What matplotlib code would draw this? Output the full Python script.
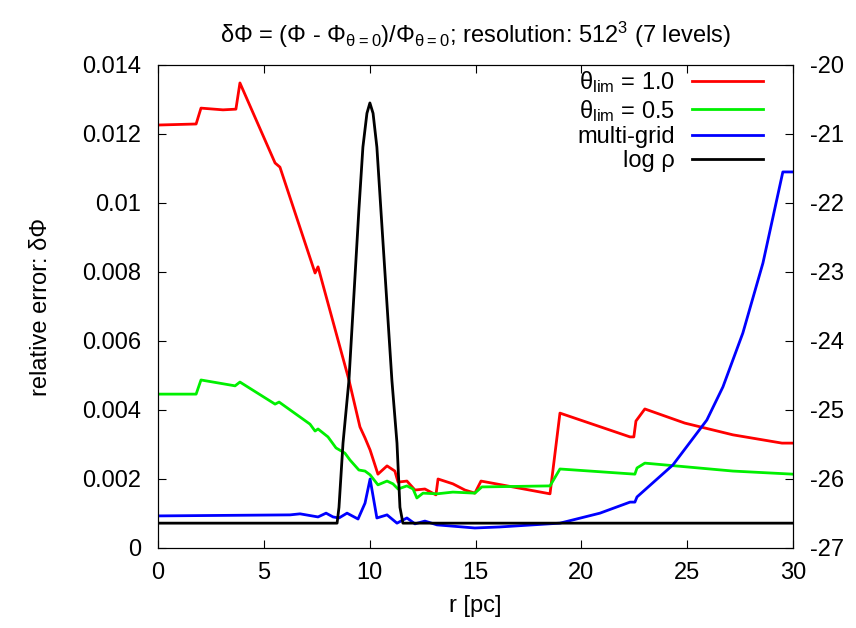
import matplotlib
matplotlib.use('Agg')
import matplotlib.pyplot as plt
from matplotlib.ticker import FormatStrFormatter, MultipleLocator

plt.rcParams['font.family'] = ['Liberation Sans', 'DejaVu Sans']
plt.rcParams['mathtext.fontset'] = 'custom'
plt.rcParams['mathtext.rm'] = 'Liberation Sans'
plt.rcParams['mathtext.default'] = 'regular'
plt.rcParams['axes.unicode_minus'] = False

# theta_lim = 1.0
r_t10 = [0, 1.80, 2.03, 3.07, 3.68, 3.87, 5.53, 5.76, 7.42, 7.56, 9.02, 9.54, 9.78, 10.02,
         10.39, 10.82, 11.19, 11.34, 11.76, 12.14, 12.61, 13.13, 13.23, 13.93, 14.50, 14.97,
         15.26, 18.52, 18.99, 22.30, 22.48, 22.58, 23.00, 24.89, 27.16, 29.48, 30]
d_t10 = [0.01226, 0.01229, 0.01275, 0.01270, 0.01272, 0.01348, 0.01116, 0.01104, 0.00797,
         0.00815, 0.00487, 0.00351, 0.00319, 0.00284, 0.00214, 0.00238, 0.00223, 0.00191,
         0.00194, 0.00168, 0.00171, 0.00154, 0.00200, 0.00186, 0.00168, 0.00159, 0.00194,
         0.00157, 0.00391, 0.00322, 0.00322, 0.00368, 0.00403, 0.00362, 0.00328, 0.00304,
         0.00304]

# theta_lim = 0.5
r_t05 = [0, 1.80, 2.03, 3.64, 3.87, 5.53, 5.72, 7.18, 7.42, 7.56, 8.03, 8.41, 8.83, 9.07,
         9.49, 9.78, 10.02, 10.39, 10.82, 11.10, 11.34, 11.76, 12.05, 12.23, 12.52, 13.18,
         13.93, 14.97, 15.30, 18.52, 18.99, 22.53, 22.63, 23.00, 24.99, 27.16, 30]
d_t05 = [0.00446, 0.00446, 0.00487, 0.00470, 0.00481, 0.00417, 0.00423, 0.00359, 0.00339,
         0.00345, 0.00322, 0.00290, 0.00275, 0.00255, 0.00226, 0.00223, 0.00212, 0.00183,
         0.00194, 0.00186, 0.00171, 0.00180, 0.00171, 0.00145, 0.00159, 0.00157, 0.00162,
         0.00159, 0.00177, 0.00180, 0.00229, 0.00214, 0.00232, 0.00246, 0.00235, 0.00223,
         0.00214]

# multi-grid
r_mg = [0, 6.24, 6.71, 7.56, 7.94, 8.27, 8.55, 8.93, 9.45, 9.78, 10.02, 10.34, 10.82, 11.29,
        11.76, 12.14, 12.61, 13.18, 14.97, 16.15, 18.99, 20.88, 22.30, 22.53, 22.63, 24.33,
        25.93, 26.69, 27.63, 28.58, 29.52, 30]
d_mg = [0.00093, 0.00096, 0.00099, 0.00090, 0.00101, 0.00090, 0.00087, 0.00101, 0.00084,
        0.00130, 0.00200, 0.00087, 0.00096, 0.00072, 0.00087, 0.00070, 0.00078, 0.00067,
        0.00058, 0.00061, 0.00072, 0.00101, 0.00133, 0.00133, 0.00148, 0.00241, 0.00371,
        0.00467, 0.00623, 0.00826, 0.01090, 0.01090]

# log rho (right axis)
r_rho = [0, 8.46, 8.55, 8.74, 9.02, 9.49, 9.68, 9.87, 10.01, 10.16, 10.34, 10.53, 11.05,
         11.29, 11.43, 11.57, 30]
logrho = [-26.64, -26.64, -26.41, -25.48, -24.57, -22.10, -21.19, -20.70, -20.55, -20.70,
          -21.19, -22.10, -24.57, -25.48, -26.41, -26.64, -26.64]

fs = 17
fig = plt.figure(figsize=(8.56, 6.28), dpi=100)
ax = fig.add_axes([0.1846, 0.1274, 0.7418, 0.7691])
ax2 = ax.twinx()

lw = 2.0
l1, = ax.plot(r_t10, d_t10, color='#ff0000', lw=lw, label=r'$θ_{lim}$ = 1.0')
l2, = ax.plot(r_t05, d_t05, color='#00f000', lw=lw, label=r'$θ_{lim}$ = 0.5')
l3, = ax.plot(r_mg, d_mg, color='#0000ff', lw=lw, label='multi-grid')
l4, = ax2.plot(r_rho, logrho, color='black', lw=lw, label='log ρ')

ax.set_xlim(0, 30)
ax.set_ylim(0, 0.014)
ax2.set_ylim(-27, -20)
ax.xaxis.set_major_locator(MultipleLocator(5))
ax.yaxis.set_major_locator(MultipleLocator(0.002))
ax.yaxis.set_major_formatter(FormatStrFormatter('%g'))
ax2.yaxis.set_major_locator(MultipleLocator(1))

ax.tick_params(axis='x', direction='in', top=True, length=6, labelsize=fs, pad=10)
ax.tick_params(axis='y', direction='in', length=6, labelsize=fs, pad=12)
ax2.tick_params(axis='y', direction='in', length=6, labelsize=fs, pad=12)

ax.set_xlabel('r [pc]', fontsize=fs, labelpad=8)
ax.set_ylabel('relative error: δΦ', fontsize=fs, labelpad=22)
ax.set_title(r'δΦ = (Φ - $Φ_{θ=0}$)/$Φ_{θ=0}$; resolution: $512^{3}$ (7 levels)',
             fontsize=fs, pad=16)

ax2.legend(handles=[l1, l2, l3, l4], loc='upper right', frameon=False, markerfirst=False,
           fontsize=fs, handlelength=3.0, handletextpad=0.7, labelspacing=0.1,
           borderaxespad=0.3, bbox_to_anchor=(0.978, 1.025))

fig.savefig('out.png', dpi=100)
